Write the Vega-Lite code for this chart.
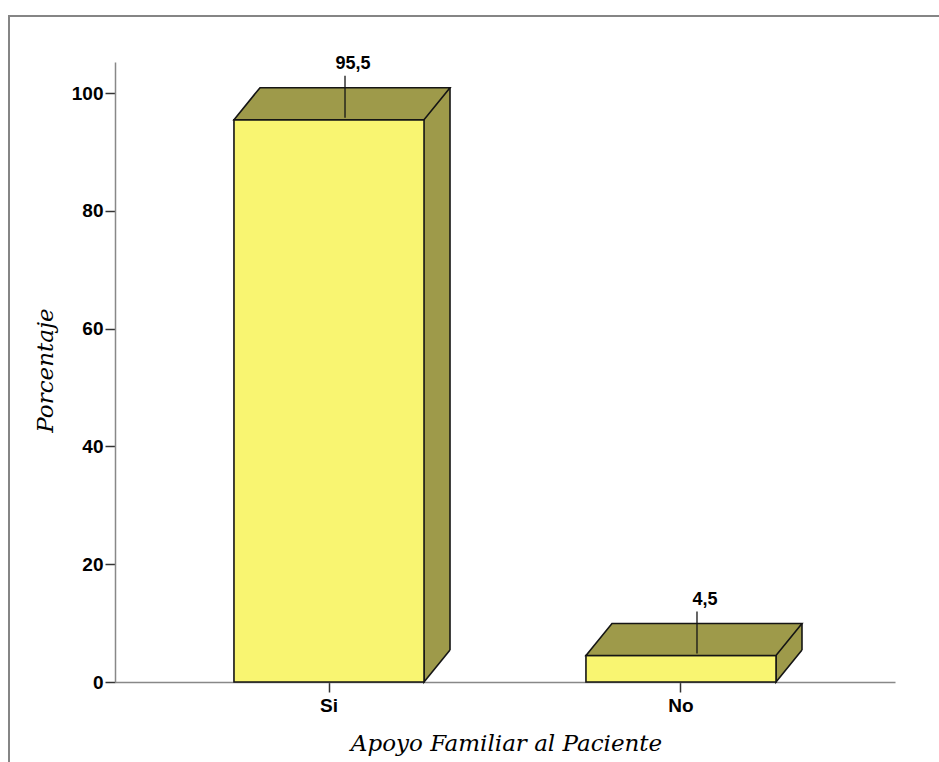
{
  "$schema": "https://vega.github.io/schema/vega-lite/v6.json",
  "width": 932,
  "height": 748,
  "autosize": {"type": "none"},
  "padding": {"left": 9, "top": 16, "right": -2, "bottom": -2},
  "background": "white",
  "config": {"view": {"stroke": "#858585", "strokeWidth": 2}},
  "data": {"values": [
    {"apoyo": "Si", "porcentaje": 95.5, "etiqueta": "95,5"},
    {"apoyo": "No", "porcentaje": 4.5, "etiqueta": "4,5"}
  ]},
  "encoding": {
    "x": {
      "field": "apoyo", "type": "nominal", "sort": ["Si", "No"],
      "scale": {"type": "band", "range": [106, 886], "paddingInner": 0.46, "paddingOuter": 0.338},
      "axis": {
        "title": "Apoyo Familiar al Paciente", "offset": -82, "labelAngle": 0,
        "domainColor": "#888888", "domainWidth": 1.5, "tickColor": "#333333", "tickWidth": 1.5,
        "tickSize": 10, "labelPadding": 4, "labelFont": "Liberation Sans", "labelFontSize": 19,
        "labelFontWeight": "bold", "labelColor": "black",
        "titleFont": "DejaVu Serif", "titleFontStyle": "italic", "titleFontWeight": "normal",
        "titleFontSize": 23, "titleColor": "black", "titleX": 497, "titleY": 68,
        "titleBaseline": "alphabetic", "titleAlign": "center"
      }
    },
    "y": {
      "field": "porcentaje", "type": "quantitative",
      "scale": {"domain": [0, 105.3], "range": [666, 46], "nice": false, "zero": true},
      "axis": {
        "title": "Porcentaje", "offset": -106, "values": [0, 20, 40, 60, 80, 100], "grid": false,
        "domainColor": "#888888", "domainWidth": 1.5, "tickColor": "#333333", "tickWidth": 1.5,
        "tickSize": 10, "labelPadding": 2, "labelFont": "Liberation Sans", "labelFontSize": 19,
        "labelFontWeight": "bold", "labelColor": "black",
        "titleFont": "DejaVu Serif", "titleFontStyle": "italic", "titleFontWeight": "normal",
        "titleFontSize": 23, "titleColor": "black", "titleX": -63, "titleY": 354,
        "titleAngle": -90, "titleBaseline": "alphabetic", "titleAlign": "center"
      }
    }
  },
  "layer": [
    {"mark": {"type": "bar", "fill": "#9E9A4A", "strokeWidth": 0, "xOffset": 26, "x2Offset": 26, "yOffset": -32, "y2Offset": -32}},
    {"mark": {"type": "point", "shape": "M 95 -32 L 95 0 L 121 -32", "size": 4, "filled": true, "fill": "#9E9A4A", "stroke": "#151515", "strokeWidth": 1.6, "opacity": 1},
     "encoding": {"y": {"datum": 0}}},
    {"mark": {"type": "bar", "fill": "#F9F571", "stroke": "#151515", "strokeWidth": 1.6}},
    {"mark": {"type": "point", "shape": "M -95 0 L -69 -32 L 121 -32 L 95 0 Z", "size": 4, "filled": true, "fill": "#9E9A4A", "stroke": "#151515", "strokeWidth": 1.6, "opacity": 1}},
    {"mark": {"type": "rule", "stroke": "#151515", "strokeWidth": 1.6, "xOffset": 121, "yOffset": -32, "y2Offset": -32},
     "encoding": {"y2": {"datum": 0}}},
    {"mark": {"type": "point", "shape": "M 16 -2 L 16 -44", "size": 4, "filled": false, "stroke": "#151515", "strokeWidth": 1.3, "opacity": 1}},
    {"mark": {"type": "text", "dx": 24, "dy": -51, "baseline": "alphabetic", "align": "center", "font": "Liberation Sans", "fontWeight": "bold", "fontSize": 18, "color": "black"},
     "encoding": {"text": {"field": "etiqueta"}}}
  ]
}
